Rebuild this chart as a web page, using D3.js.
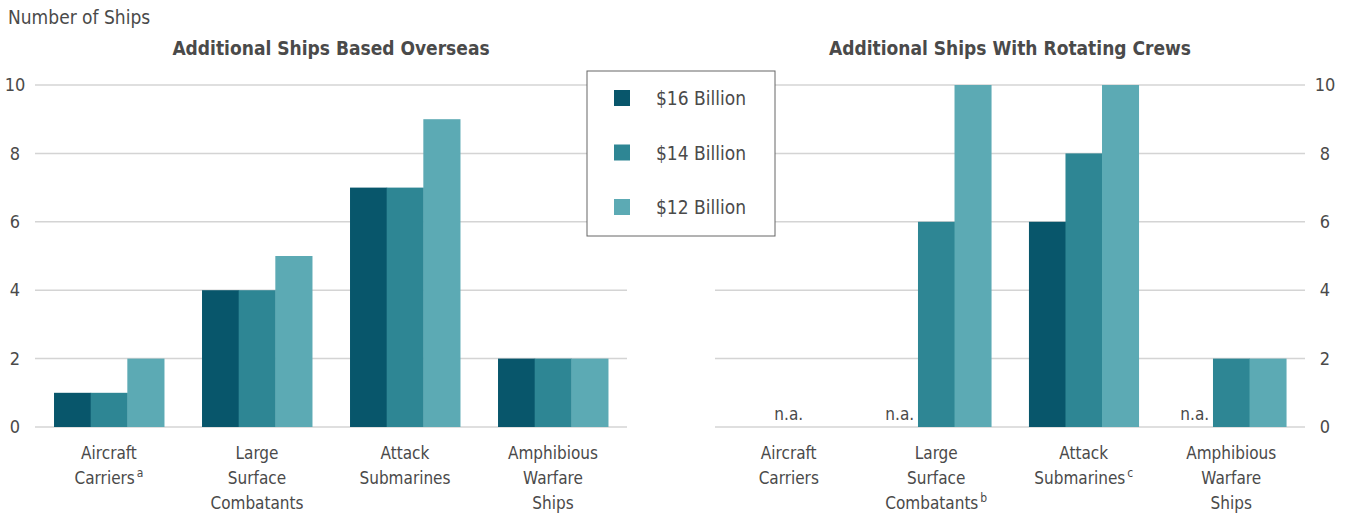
<!DOCTYPE html>
<html><head><meta charset="utf-8">
<script src="https://cdn.jsdelivr.net/npm/d3@7"></script>
<style>
body{margin:0;background:#fff;}
svg text{font-family:"Liberation Sans Narrow","DejaVu Sans Condensed","Roboto Condensed",sans-serif;fill:#4a4a4a;}
</style></head>
<body><svg id="c" width="1349" height="514"></svg>
<script>
const categoriesLeft = [["Aircraft","Carriers|a"],["Large","Surface","Combatants"],["Attack","Submarines"],["Amphibious","Warfare","Ships"]];
const categoriesRight = [["Aircraft","Carriers"],["Large","Surface","Combatants|b"],["Attack","Submarines|c"],["Amphibious","Warfare","Ships"]];
const seriesNames = ["$16 Billion","$14 Billion","$12 Billion"];
const overseas16 = [1,4,7,2];
const overseas14 = [1,4,7,2];
const overseas12 = [2,5,9,2];
const rotating16 = [null,null,6,null];
const rotating14 = [null,6,8,2];
const rotating12 = [null,10,10,2];
const yTicks = [0,2,4,6,8,10];
const colors = ["#08566b","#2e8694","#5caab4"];

const svg = d3.select("#c");
const y = d3.scaleLinear().domain([0,10]).range([427,85]);

svg.append("text").attr("x",8).attr("y",24).attr("font-size",19).text("Number of Ships");

function panel(x0,x1,title,cats,series,axisSide){
  const g = svg.append("g");
  const x = d3.scaleBand().domain(d3.range(cats.length)).range([x0,x1]).paddingInner(0.257).paddingOuter(0.1285);
  const xs = d3.scaleBand().domain(d3.range(3)).range([0,x.bandwidth()]);
  g.append("text").attr("x",(x0+x1)/2).attr("y",55).attr("text-anchor","middle")
    .attr("font-size",19).attr("font-weight","bold").attr("fill","#555").text(title);
  g.selectAll(".grid").data(yTicks).join("line")
    .attr("x1",x0).attr("x2",x1).attr("y1",d=>y(d)).attr("y2",d=>y(d))
    .attr("stroke","#d4d4d4").attr("stroke-width",1.5);
  const ax = axisSide==="left" ? d3.axisLeft(y) : d3.axisRight(y);
  const axg = g.append("g").attr("transform",`translate(${axisSide==="left"? x0-10 : x1+10},0)`)
    .call(ax.tickValues(yTicks).tickSize(0).tickPadding(0));
  axg.select(".domain").remove();
  axg.selectAll("text").attr("font-size",18).attr("fill","#4a4a4a")
    .attr("text-anchor","middle").attr("dx",axisSide==="left"?-10:10)
    .style("font-family",'"Liberation Sans Narrow","DejaVu Sans Condensed",sans-serif');
  series.forEach((vals,si)=>{
    vals.forEach((v,ci)=>{
      if(v!==null){
        g.append("rect").attr("x",x(ci)+xs(si)).attr("width",xs.bandwidth()+0.5)
          .attr("y",y(v)).attr("height",y(0)-y(v)).attr("fill",colors[si]);
      }
    });
  });
  cats.forEach((c,ci)=>{
    const nulls = series.map(s=>s[ci]===null);
    if(nulls.every(d=>d)){
      g.append("text").attr("x",x(ci)+x.bandwidth()/2).attr("y",y(0)-7).attr("text-anchor","middle").attr("font-size",17).text("n.a.");
    } else {
      nulls.forEach((n,si)=>{ if(n) g.append("text").attr("x",x(ci)+xs(si)+xs.bandwidth()/2).attr("y",y(0)-7).attr("text-anchor","middle").attr("font-size",17).text("n.a."); });
    }
  });
  cats.forEach((lines,ci)=>{
    const t = g.append("text").attr("x",x(ci)+x.bandwidth()/2).attr("y",459).attr("text-anchor","middle").attr("font-size",17);
    lines.forEach((ln,li)=>{
      const parts = ln.split("|");
      t.append("tspan").attr("x",x(ci)+x.bandwidth()/2).attr("dy",li===0?0:25).text(parts[0]);
      if(parts[1]){
        t.append("tspan").attr("font-size",12).attr("dx",2).attr("dy",-7).text(parts[1]);
        t.append("tspan").attr("dy",7).text("");
      }
    });
  });
}
panel(35,627,"Additional Ships Based Overseas",categoriesLeft,[overseas16,overseas14,overseas12],"left");
panel(715,1305,"Additional Ships With Rotating Crews",categoriesRight,[rotating16,rotating14,rotating12],"right");

const lg = svg.append("g");
lg.append("rect").attr("x",587).attr("y",71).attr("width",188).attr("height",165).attr("fill","#fff").attr("stroke","#666").attr("stroke-width",1);
seriesNames.forEach((n,i)=>{
  const cy = 98 + i*54.5;
  lg.append("rect").attr("x",614).attr("y",cy-8).attr("width",16).attr("height",16).attr("fill",colors[i]);
  lg.append("text").attr("x",656).attr("y",cy+7).attr("font-size",19).text(n);
});
</script></body></html>
